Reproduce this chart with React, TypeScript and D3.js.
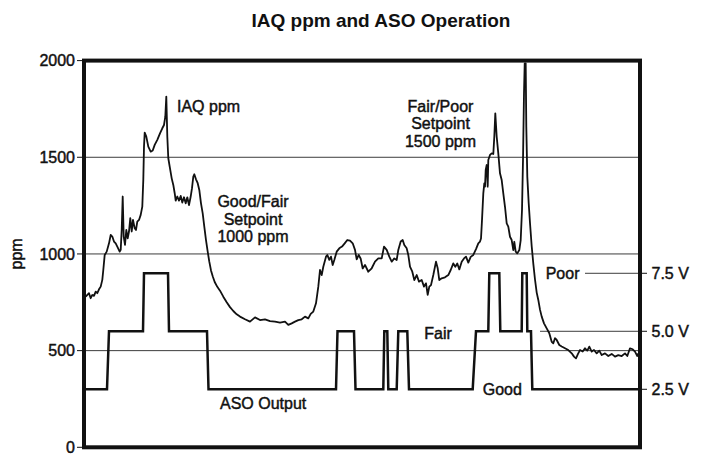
import { scaleLinear, line } from 'd3'

// IAQ sensor trace (ppm) with the ASO analog output stepping 2.5 / 5.0 / 7.5 V.
// Time axis is unlabelled in the source, so samples are indexed 0..556.

const TITLE = 'IAQ ppm and ASO Operation'
const PPM_TICKS = [0, 500, 1000, 1500, 2000]
const GRID_PPM = [500, 1000, 1500]
const VOLT_TICKS = [2.5, 5.0, 7.5]

const iaqT = [
  1.7, 5, 6.7, 8.3, 10, 11.7, 13.3, 15, 16.7, 18.3, 19.3, 20.7, 22.7, 25, 26.7, 28.3, 30, 31.7, 33.3, 35.7,
  36.7, 37.7, 38.7, 39.7, 41, 42.3, 43.7, 45, 46.3, 47.7, 49, 50.7, 52, 53.3, 55, 56.7, 58.3, 59.3, 60, 60.7,
  62.3, 64.3, 66.7, 68.7, 70.7, 73.3, 76, 78.3, 80, 81.3, 82.3, 83.3, 84.3, 86, 87.7, 89.3, 90.7, 91.7, 93.3,
  95, 96.7, 98.3, 100, 101.7, 103.3, 105, 106.7, 108, 109.3, 110.3, 112, 113.7, 115.3, 117, 118.7, 120.3, 122,
  123.7, 125.3, 127, 128.7, 130.7, 133.3, 136, 139.3, 142.7, 146, 149.3, 152.7, 156, 161, 166, 171, 176, 181,
  186, 191, 196, 201, 204.3, 207.7, 211, 214.3, 217.7, 221, 224.3, 226.7, 229.3, 232, 234.3, 236, 237.7, 239.3,
  242, 243.3, 245.3, 247, 248.7, 250.3, 252.7, 255.3, 258, 260.7, 263.3, 266, 268.7, 271, 272.7, 274.7, 276.7,
  278.7, 281, 284.3, 287.7, 291, 294.3, 297.7, 300, 302.7, 305.3, 307.7, 310.3, 312.7, 314.3, 316.7, 318.7,
  320.3, 322.7, 324.3, 326, 328.3, 330.3, 332.7, 335, 337.7, 340, 342, 343.7, 345.3, 347, 349.3, 352, 353.7,
  355.3, 357.7, 361, 364.3, 366.7, 369.3, 371.3, 373.3, 375.3, 377.7, 380, 382, 384.3, 386.7, 389.3, 392,
  394.3, 396, 397, 398, 399.3, 400.3, 401, 401.7, 402.7, 403.7, 404.3, 406, 407.7, 409.3, 410.3, 411.3, 412.7,
  414.3, 416, 417.7, 419.3, 421, 422.7, 424.3, 426, 427.7, 429.3, 430.3, 431.7, 433.3, 435.3, 436.7, 438, 439,
  440, 440.7, 441.7, 442.3, 443.3, 444.7, 446, 447.7, 449.3, 451, 452.7, 454.3, 456, 457.7, 460, 462.7, 465.3,
  467.7, 469.3, 471, 472.7, 475.3, 477.7, 481, 484.3, 487.7, 490, 492, 494, 496, 498.7, 501, 503.3, 505.3,
  507.7, 510, 512.7, 515.3, 517.7, 521, 524.3, 527.7, 531, 534.3, 537.7, 541, 543.3, 546, 548.7, 551, 553.3,
  554.3,
]

const iaqPpm = [
  779, 797, 771, 788, 783, 805, 797, 817, 831, 866, 917, 995, 1012, 1055, 1098, 1090, 1064, 1055, 1038, 1012,
  1021, 1124, 1297, 1090, 1047, 1124, 1081, 1116, 1185, 1116, 1176, 1133, 1124, 1167, 1176, 1202, 1245, 1383,
  1555, 1628, 1607, 1555, 1529, 1535, 1564, 1590, 1624, 1650, 1667, 1710, 1814, 1607, 1495, 1443, 1391, 1357,
  1314, 1276, 1297, 1276, 1300, 1266, 1293, 1262, 1293, 1253, 1297, 1340, 1400, 1412, 1386, 1366, 1331, 1262,
  1210, 1141, 1072, 1012, 960, 915, 885, 855, 830, 810, 779, 750, 725, 705, 688, 676, 662, 650, 672, 658, 662,
  653, 650, 645, 650, 633, 641, 650, 658, 662, 676, 667, 690, 702, 745, 831, 917, 891, 934, 986, 995, 969, 986,
  943, 969, 1012, 1029, 1038, 1055, 1072, 1069, 1055, 1021, 972, 995, 975, 925, 943, 908, 926, 960, 977, 977,
  1038, 1021, 986, 960, 977, 969, 1021, 1064, 1072, 1046, 1029, 995, 934, 908, 865, 891, 857, 865, 831, 848,
  788, 831, 839, 891, 960, 926, 865, 874, 879, 891, 917, 951, 934, 951, 920, 960, 977, 986, 955, 985, 995,
  1025, 1055, 1064, 1080, 1175, 1313, 1365, 1348, 1434, 1460, 1348, 1486, 1512, 1520, 1517, 1606, 1727, 1606,
  1520, 1417, 1382, 1313, 1244, 1158, 1141, 1089, 1072, 1020, 1063, 1012, 1003, 1020, 1072, 1227, 1486, 1831,
  1986, 1986, 1658, 1400, 1262, 1160, 1040, 950, 868, 800, 762, 712, 676, 641, 615, 590, 546, 538, 564, 555,
  529, 521, 512, 503, 486, 469, 460, 483, 503, 495, 512, 500, 521, 495, 503, 486, 500, 477, 486, 472, 483,
  469, 477, 472, 486, 472, 512, 507, 495, 472, 486,
]

const asoT = [
  0, 23, 25, 59, 60, 84, 85, 123, 124.5, 252, 253.5, 270, 271.5, 299.3, 300.3, 303.3, 304.3, 312.7, 314.3,
  323.3, 325, 388.7, 392, 404.3, 405.3, 415.3, 416.3, 437.7, 438.3, 442.7, 443.3, 447, 448.3, 556,
]
const asoVolts = [
  2.5, 2.5, 5, 5, 7.5, 7.5, 5, 5, 2.5, 2.5, 5, 5, 2.5, 2.5, 5, 5, 2.5, 2.5, 5, 5, 2.5, 2.5, 5, 5, 7.5, 7.5, 5,
  5, 7.5, 7.5, 5, 5, 2.5, 2.5,
]

const FONT = '"Liberation Sans", Arial, Helvetica, sans-serif'
const INK = '#111'
const GRID = '#3c3c3c'

export default function App() {
  const left = 84
  const right = 640
  const top = 60.6
  const bottom = 447.3

  const x = scaleLinear().domain([0, 556]).range([left, right])
  const y = scaleLinear().domain([0, 2000]).range([bottom, top])
  // ASO output: 2.5 V ↔ 300 ppm on the shared frame
  const yV = scaleLinear().domain([0, 2000 / 120]).range([bottom, top])

  const iaq = iaqT.map((t, i) => ({ t, v: iaqPpm[i] }))
  const aso = asoT.map((t, i) => ({ t, v: asoVolts[i] }))
  const iaqPath = line<{ t: number; v: number }>()
    .x((d) => x(d.t))
    .y((d) => y(d.v))(iaq)
  const asoPath = line<{ t: number; v: number }>()
    .x((d) => x(d.t))
    .y((d) => yV(d.v))(aso)

  // scanned original reads heavier than plain regular weight
  const txt = { fontFamily: FONT, fontSize: 16, fill: INK, stroke: INK, strokeWidth: 0.45 }

  return (
    <svg
      width={701}
      height={455}
      viewBox="0 0 701 455"
      style={{ position: 'absolute', left: 0, top: 0, background: '#fff' }}
    >
      <rect x={0} y={0} width={701} height={455} fill="#fff" />
      <text x={381} y={27} textAnchor="middle" fontFamily={FONT} fontSize={19} fontWeight="bold" fill={INK}>
        {TITLE}
      </text>

      {GRID_PPM.map((p) => (
        <line key={p} x1={left} x2={right} y1={y(p)} y2={y(p)} stroke={GRID} strokeWidth={1} />
      ))}

      {/* right-hand voltage callouts */}
      <line x1={585} x2={right} y1={yV(7.5)} y2={yV(7.5)} stroke={GRID} strokeWidth={1} />
      <line x1={540} x2={right} y1={yV(5)} y2={yV(5)} stroke={GRID} strokeWidth={1} />

      {iaqPath && <path d={iaqPath} fill="none" stroke={INK} strokeWidth={1.8} strokeLinejoin="round" />}
      {asoPath && <path d={asoPath} fill="none" stroke={INK} strokeWidth={2.5} strokeLinejoin="miter" />}

      <rect x={left} y={top} width={right - left} height={bottom - top} fill="none" stroke={INK} strokeWidth={4} />

      {PPM_TICKS.map((p) => (
        <g key={p}>
          <line x1={77} x2={82} y1={y(p)} y2={y(p)} stroke={INK} strokeWidth={1} />
          <text x={75} y={y(p) + 5.8} textAnchor="end" {...txt}>
            {p}
          </text>
        </g>
      ))}
      {VOLT_TICKS.map((v) => (
        <g key={v}>
          <line x1={642} x2={647} y1={yV(v)} y2={yV(v)} stroke={INK} strokeWidth={1} />
          <text x={651.5} y={yV(v) + 5.8} {...txt}>
            {v.toFixed(1)} V
          </text>
        </g>
      ))}

      <text transform={`translate(22, ${y(1000)}) rotate(-90)`} textAnchor="middle" {...txt}>
        ppm
      </text>

      <text x={177} y={112} {...txt}>IAQ ppm</text>
      <text x={253} y={207} textAnchor="middle" {...txt}>Good/Fair</text>
      <text x={253} y={224.5} textAnchor="middle" {...txt}>Setpoint</text>
      <text x={253} y={242} textAnchor="middle" {...txt}>1000 ppm</text>
      <text x={440.5} y={112} textAnchor="middle" {...txt}>Fair/Poor</text>
      <text x={440.5} y={129.3} textAnchor="middle" {...txt}>Setpoint</text>
      <text x={440.5} y={146.7} textAnchor="middle" {...txt}>1500 ppm</text>
      <text x={545.7} y={279} {...txt}>Poor</text>
      <text x={424.3} y={339} {...txt}>Fair</text>
      <text x={482.7} y={395} {...txt}>Good</text>
      <text x={220} y={409} {...txt}>ASO Output</text>
    </svg>
  )
}
